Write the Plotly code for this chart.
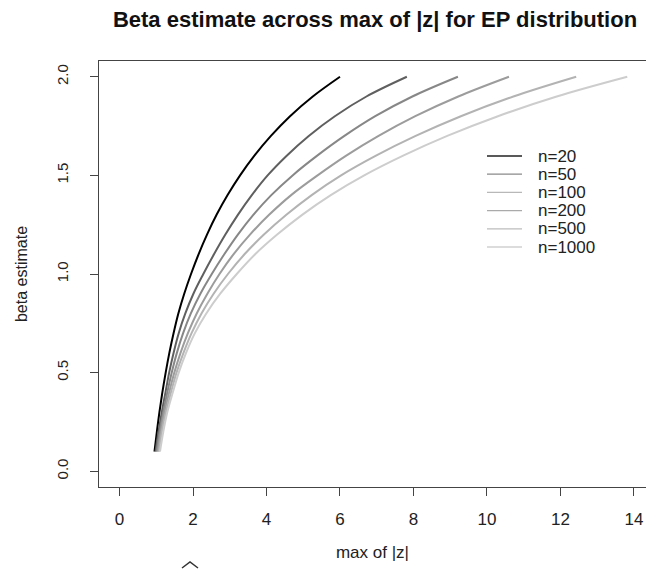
import plotly.graph_objects as go

# ---- data ----
beta = [0.1, 0.2, 0.3, 0.4, 0.5, 0.6, 0.7, 0.8, 0.9, 1.0,
        1.1, 1.2, 1.3, 1.4, 1.5, 1.6, 1.7, 1.8, 1.9, 2.0]
maxz_n20 = [0.95, 1.015, 1.085, 1.165, 1.255, 1.355, 1.47, 1.60, 1.76, 1.945,
            2.15, 2.38, 2.64, 2.94, 3.28, 3.67, 4.12, 4.64, 5.26, 6.00]
maxz_n50 = [0.98, 1.06, 1.15, 1.25, 1.35, 1.47, 1.61, 1.79, 2.01, 2.28,
            2.57, 2.88, 3.22, 3.60, 4.03, 4.55, 5.15, 5.86, 6.72, 7.82]
maxz_n100 = [1.01, 1.09, 1.19, 1.30, 1.42, 1.56, 1.73, 1.94, 2.20, 2.51,
             2.85, 3.22, 3.64, 4.13, 4.71, 5.38, 6.12, 6.96, 7.97, 9.21]
maxz_n200 = [1.04, 1.12, 1.22, 1.35, 1.49, 1.66, 1.86, 2.10, 2.39, 2.72,
             3.10, 3.55, 4.07, 4.67, 5.39, 6.17, 7.05, 8.05, 9.22, 10.60]
maxz_n500 = [1.07, 1.15, 1.26, 1.40, 1.55, 1.74, 1.96, 2.23, 2.56, 2.95,
             3.40, 3.93, 4.54, 5.23, 6.03, 6.98, 8.06, 9.29, 10.72, 12.43]
maxz_n1000 = [1.10, 1.19, 1.30, 1.45, 1.61, 1.81, 2.05, 2.36, 2.74, 3.19,
              3.69, 4.29, 4.97, 5.75, 6.66, 7.72, 8.92, 10.30, 11.90, 13.82]

series_names = ["n=20", "n=50", "n=100", "n=200", "n=500", "n=1000"]
series_x = [maxz_n20, maxz_n50, maxz_n100, maxz_n200, maxz_n500, maxz_n1000]
series_colors = ["#000000", "#5f5f5f", "#878787", "#9c9c9c", "#b3b3b3", "#cdcdcd"]
legend_colors = ["#222222", "#8a8a8a", "#b8b8b8", "#aaaaaa", "#bcbcbc", "#d0d0d0"]

x_ticks = [0, 2, 4, 6, 8, 10, 12, 14]
y_ticks = [0.0, 0.5, 1.0, 1.5, 2.0]
y_tick_labels = ["0.0", "0.5", "1.0", "1.5", "2.0"]

FONT = "Liberation Sans, Arial, Helvetica, sans-serif"

fig = go.Figure()
for name, xs, col in zip(series_names, series_x, series_colors):
    fig.add_trace(go.Scatter(
        x=xs, y=beta, mode="lines", name=name,
        line=dict(color=col, width=2, shape="spline", smoothing=1.0),
        showlegend=False,
    ))

# the page's default body margin is removed (post_script below), so the
# figure fills the 646x572 window exactly
W, H = 646, 572
ml, mr, mt, mb = 99, 0, 61, 85
pw, ph = W - ml - mr, H - mt - mb


def px2paper(px, py):
    """window pixel -> paper coordinates"""
    return (px - ml) / pw, (H - mb - py) / ph


fig.update_layout(
    width=W, height=H, autosize=False,
    margin=dict(l=ml, r=mr, t=mt, b=mb, pad=0),
    paper_bgcolor="white", plot_bgcolor="white",
    font=dict(family=FONT, size=15, color="#222222"),
    title=dict(
        text="<b>Beta estimate across max of |z| for EP distribution</b>",
        x=375 / W, xref="container", xanchor="center",
        y=1 - 19 / H, yref="container", yanchor="middle",
        font=dict(family=FONT, size=22, color="#111111"),
    ),
    showlegend=False,
    xaxis=dict(
        range=[-0.56, 14.33], tickmode="array", tickvals=x_ticks,
        showgrid=False, zeroline=False,
        showline=True, linecolor="#444444", linewidth=1, mirror=True,
        ticks="outside", ticklen=8, tickcolor="#444444", tickwidth=1,
        ticklabelstandoff=9, tickfont=dict(size=17),
        title=dict(text="max of |z|", standoff=17, font=dict(size=17)),
    ),
    yaxis=dict(
        range=[-0.08, 2.08], tickmode="array", tickvals=y_ticks, ticktext=y_tick_labels,
        tickangle=-90,
        showgrid=False, zeroline=False,
        showline=True, linecolor="#444444", linewidth=1, mirror=False,
        ticks="outside", ticklen=8, tickcolor="#444444", tickwidth=1,
        ticklabelstandoff=16, tickfont=dict(size=15),
        title=dict(text="beta estimate", standoff=22, font=dict(size=16)),
    ),
)

# legend (drawn as in the reference: thin line samples with labels to the right)
leg_rows_py = [156, 174.2, 192.4, 210.6, 228.8, 247]
for name, col, py in zip(series_names, legend_colors, leg_rows_py):
    x0, yy = px2paper(487, py)
    x1, _ = px2paper(522, py)
    xt, _ = px2paper(536, py)
    fig.add_shape(type="line", xref="paper", yref="paper",
                  x0=x0, x1=x1, y0=yy, y1=yy,
                  line=dict(color=col, width=1.3))
    fig.add_annotation(xref="paper", yref="paper", x=xt, y=yy,
                       text=name, showarrow=False, xanchor="left", yanchor="middle",
                       font=dict(family=FONT, size=17, color="#222222"))

# small caret mark below the x axis (present in the reference)
a = px2paper(182, 568)
b = px2paper(190, 562)
c = px2paper(198, 568)
fig.add_shape(type="path", xref="paper", yref="paper",
              path=f"M {a[0]} {a[1]} L {b[0]} {b[1]} L {c[0]} {c[1]}",
              line=dict(color="#333333", width=1.5))

fig.write_html(
    "out.html",
    config={"displayModeBar": False, "staticPlot": True},
    post_script="document.body.style.margin='0';document.body.style.overflow='hidden';",
)
